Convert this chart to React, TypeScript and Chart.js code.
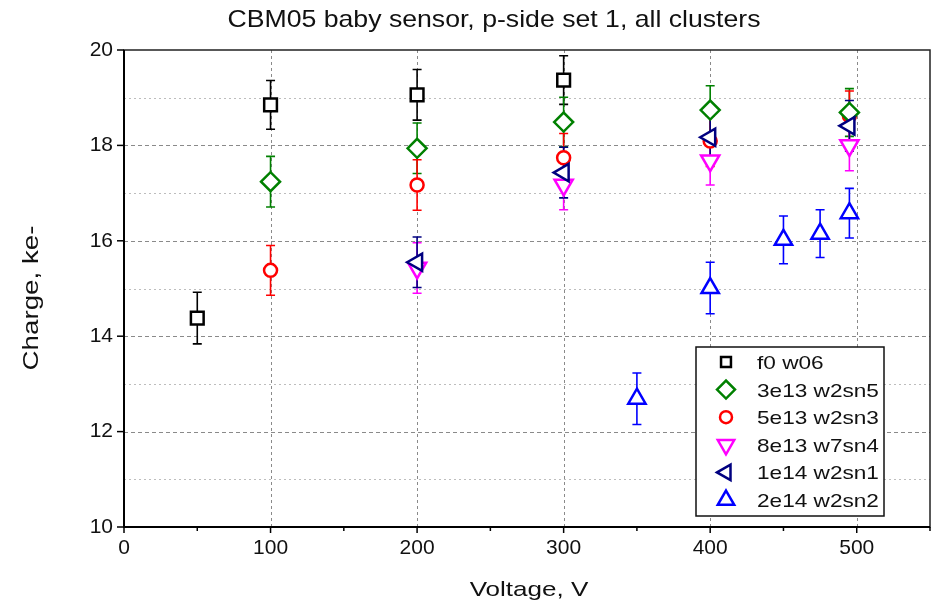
import React, { useEffect, useRef } from 'react';
import { Chart, registerables } from 'chart.js';

Chart.register(...registerables);

const TITLE = 'CBM05 baby sensor, p-side set 1, all clusters';
const X_TITLE = 'Voltage, V';
const Y_TITLE = 'Charge, ke-';

const SERIES_NAMES = ['f0 w06', '3e13 w2sn5', '5e13 w2sn3', '8e13 w7sn4', '1e14 w2sn1', '2e14 w2sn2'];

const f0_x = [50, 100, 200, 300];
const f0_y = [14.38, 18.85, 19.06, 19.37];
const f0_err = [0.54, 0.51, 0.53, 0.51];

const s3e13_x = [100, 200, 300, 400, 495];
const s3e13_y = [17.24, 17.94, 18.49, 18.74, 18.69];
const s3e13_err = [0.53, 0.53, 0.52, 0.51, 0.5];

const s5e13_x = [100, 200, 300, 400, 495];
const s5e13_y = [15.38, 17.17, 17.74, 18.09, 18.62];
const s5e13_err = [0.52, 0.53, 0.51, 0.53, 0.52];

const s8e13_x = [200, 300, 400, 495];
const s8e13_y = [15.43, 17.17, 17.68, 18.0];
const s8e13_err = [0.53, 0.52, 0.51, 0.53];

const s1e14_x = [200, 300, 400, 495];
const s1e14_y = [15.55, 17.43, 18.17, 18.41];
const s1e14_err = [0.53, 0.53, 0.51, 0.53];

const s2e14_x = [350, 400, 450, 475, 495];
const s2e14_y = [12.69, 15.01, 16.02, 16.15, 16.58];
const s2e14_err = [0.54, 0.54, 0.5, 0.5, 0.52];

const X_MIN = 0, X_MAX = 550, X_STEP = 50, X_LABEL_STEP = 100;
const Y_MIN = 10, Y_MAX = 20, Y_STEP = 1, Y_LABEL_STEP = 2;

const COLORS = ['#000000', '#008000', '#ff0000', '#ff00ff', '#000080', '#0000ff'];
const STYLES = ['rect', 'rectRot', 'circle', 'triangle', 'triangle', 'triangle'];
const ROTATIONS = [0, 0, 0, 180, -90, 0];
const RADII = [9, 9.5, 6.5, 10.5, 10, 10];
const LEGEND_RADII = [7, 9, 6, 9.5, 9, 9.5];
const ORDERS = [0, 3, 5, 4, 2, 1];

const FONT = '"Liberation Sans", Arial, sans-serif';

function drawMarker(ctx: CanvasRenderingContext2D, style: string, rot: number, x: number, y: number, r: number) {
  ctx.beginPath();
  if (style === 'rect') {
    const s = r * Math.SQRT1_2;
    ctx.rect(x - s, y - s, 2 * s, 2 * s);
  } else if (style === 'rectRot') {
    ctx.moveTo(x - r, y);
    ctx.lineTo(x, y - r);
    ctx.lineTo(x + r, y);
    ctx.lineTo(x, y + r);
    ctx.closePath();
  } else if (style === 'circle') {
    ctx.arc(x, y, r, 0, Math.PI * 2);
  } else {
    let a = (rot * Math.PI) / 180;
    ctx.moveTo(x + Math.sin(a) * r, y - Math.cos(a) * r);
    a += (2 * Math.PI) / 3;
    ctx.lineTo(x + Math.sin(a) * r, y - Math.cos(a) * r);
    a += (2 * Math.PI) / 3;
    ctx.lineTo(x + Math.sin(a) * r, y - Math.cos(a) * r);
    ctx.closePath();
  }
  ctx.fill();
  ctx.stroke();
}

const backgroundPlugin = {
  id: 'gridAndErrors',
  beforeDatasetsDraw(chart: any) {
    const { ctx, chartArea, scales } = chart;
    const xs = scales.x;
    const ys = scales.y;
    ctx.save();
    // horizontal grid
    ys.ticks.forEach((t: any) => {
      const v = t.value;
      if (v <= Y_MIN || v >= Y_MAX) return;
      const py = Math.round(ys.getPixelForValue(v)) + 0.5;
      const major = Math.abs(v % Y_LABEL_STEP) < 1e-6;
      ctx.strokeStyle = major ? '#8a8a8a' : '#bdbdbd';
      ctx.setLineDash(major ? [4, 3] : [2, 3]);
      ctx.lineWidth = 1;
      ctx.beginPath();
      ctx.moveTo(chartArea.left, py);
      ctx.lineTo(chartArea.right, py);
      ctx.stroke();
    });
    // vertical grid
    xs.ticks.forEach((t: any) => {
      const v = t.value;
      if (v <= X_MIN || v >= X_MAX) return;
      if (Math.abs(v % X_LABEL_STEP) > 1e-6) return;
      const px = Math.round(xs.getPixelForValue(v)) + 0.5;
      ctx.strokeStyle = '#8a8a8a';
      ctx.setLineDash([3, 3]);
      ctx.lineWidth = 1;
      ctx.beginPath();
      ctx.moveTo(px, chartArea.top);
      ctx.lineTo(px, chartArea.bottom);
      ctx.stroke();
    });
    ctx.setLineDash([]);
    // error bars
    chart.data.datasets.forEach((ds: any, i: number) => {
      const meta = chart.getDatasetMeta(i);
      ctx.strokeStyle = ds.borderColor;
      ctx.lineWidth = 1.6;
      meta.data.forEach((pt: any, j: number) => {
        const e = ds.errors[j];
        const v = ds.data[j].y;
        const px = pt.x;
        const top = ys.getPixelForValue(v + e);
        const bot = ys.getPixelForValue(v - e);
        ctx.beginPath();
        ctx.moveTo(px, top);
        ctx.lineTo(px, bot);
        ctx.moveTo(px - 4.5, top);
        ctx.lineTo(px + 4.5, top);
        ctx.moveTo(px - 4.5, bot);
        ctx.lineTo(px + 4.5, bot);
        ctx.stroke();
      });
    });
    ctx.restore();
  },
  afterDraw(chart: any) {
    const { ctx, chartArea, scales } = chart;
    const xs = scales.x;
    const ys = scales.y;
    const { left, right, top, bottom } = chartArea;
    ctx.save();
    // frame
    ctx.strokeStyle = '#222';
    ctx.lineWidth = 1.5;
    ctx.strokeRect(left, top, right - left, bottom - top);
    ctx.strokeStyle = '#000';
    ctx.lineWidth = 2;
    ctx.beginPath();
    ctx.moveTo(left, top);
    ctx.lineTo(left, bottom);
    ctx.lineTo(right, bottom);
    ctx.stroke();
    // tick marks
    ctx.lineWidth = 1.5;
    ys.ticks.forEach((t: any) => {
      const v = t.value;
      if (Math.abs(v % Y_LABEL_STEP) > 1e-6) return;
      const py = ys.getPixelForValue(v);
      ctx.beginPath();
      ctx.moveTo(left - 7, py);
      ctx.lineTo(left, py);
      ctx.stroke();
    });
    xs.ticks.forEach((t: any) => {
      const v = t.value;
      const major = Math.abs(v % X_LABEL_STEP) < 1e-6;
      const px = xs.getPixelForValue(v);
      ctx.beginPath();
      ctx.moveTo(px, bottom);
      ctx.lineTo(px, bottom + (major ? 6 : 4));
      ctx.stroke();
    });

    ctx.fillStyle = '#111';
    // title
    ctx.save();
    ctx.font = `24px ${FONT}`;
    ctx.textAlign = 'center';
    ctx.textBaseline = 'alphabetic';
    ctx.translate(494, 27);
    ctx.scale(1.11, 1);
    ctx.fillText(TITLE, 0, 0);
    ctx.restore();
    // x title
    ctx.save();
    ctx.font = `21px ${FONT}`;
    ctx.textAlign = 'center';
    ctx.translate(529, 596);
    ctx.scale(1.24, 1);
    ctx.fillText(X_TITLE, 0, 0);
    ctx.restore();
    // y title
    ctx.save();
    ctx.font = `22px ${FONT}`;
    ctx.textAlign = 'center';
    ctx.translate(38, 298);
    ctx.rotate(-Math.PI / 2);
    ctx.scale(1.26, 1);
    ctx.fillText(Y_TITLE, 0, 0);
    ctx.restore();

    // legend
    const bx = 696, by = 347, bw = 188, bh = 169;
    ctx.fillStyle = '#fff';
    ctx.fillRect(bx, by, bw, bh);
    ctx.strokeStyle = '#111';
    ctx.lineWidth = 1.5;
    ctx.strokeRect(bx, by, bw, bh);
    SERIES_NAMES.forEach((name, i) => {
      const cy = 362 + i * 27.6;
      ctx.fillStyle = '#fff';
      ctx.strokeStyle = COLORS[i];
      ctx.lineWidth = 2.5;
      drawMarker(ctx, STYLES[i], ROTATIONS[i], 726, cy, LEGEND_RADII[i]);
      ctx.save();
      ctx.fillStyle = '#111';
      ctx.font = `19px ${FONT}`;
      ctx.textAlign = 'left';
      ctx.textBaseline = 'alphabetic';
      ctx.translate(757, cy + 7);
      ctx.scale(1.19, 1);
      ctx.fillText(name, 0, 0);
      ctx.restore();
    });
    ctx.restore();
  },
};

function makeData(xs: number[], ys: number[]) {
  return xs.map((x, i) => ({ x, y: ys[i] }));
}

export default function App() {
  const ref = useRef<HTMLCanvasElement>(null);
  useEffect(() => {
    const xsAll = [f0_x, s3e13_x, s5e13_x, s8e13_x, s1e14_x, s2e14_x];
    const ysAll = [f0_y, s3e13_y, s5e13_y, s8e13_y, s1e14_y, s2e14_y];
    const errAll = [f0_err, s3e13_err, s5e13_err, s8e13_err, s1e14_err, s2e14_err];
    const datasets = SERIES_NAMES.map((name, i) => ({
      label: name,
      data: makeData(xsAll[i], ysAll[i]),
      errors: errAll[i],
      borderColor: COLORS[i],
      backgroundColor: '#ffffff',
      pointStyle: STYLES[i],
      pointRotation: ROTATIONS[i],
      pointRadius: RADII[i],
      pointBorderWidth: 2.5,
      pointBackgroundColor: '#ffffff',
      pointBorderColor: COLORS[i],
      showLine: false,
      order: ORDERS[i],
    }));
    const chart = new Chart(ref.current as HTMLCanvasElement, {
      type: 'scatter',
      data: { datasets } as any,
      options: {
        animation: false,
        responsive: false,
        layout: { autoPadding: false, padding: { top: 50, right: 3, left: 0, bottom: 0 } },
        plugins: { legend: { display: false }, title: { display: false }, tooltip: { enabled: false } },
        scales: {
          x: {
            type: 'linear',
            min: X_MIN,
            max: X_MAX,
            grid: { display: false, drawTicks: false },
            border: { display: false },
            ticks: {
              stepSize: X_STEP,
              autoSkip: false,
              maxRotation: 0,
              padding: 9,
              color: '#111',
              font: { family: FONT, size: 21 },
              callback: (v: any) => (Math.abs(Number(v) % X_LABEL_STEP) < 1e-6 ? String(v) : ''),
            },
            afterFit: (s: any) => {
              s.height = 80;
              s.paddingLeft = 0;
              s.paddingRight = 0;
            },
          },
          y: {
            type: 'linear',
            min: Y_MIN,
            max: Y_MAX,
            grid: { display: false, drawTicks: false },
            border: { display: false },
            ticks: {
              stepSize: Y_STEP,
              autoSkip: false,
              padding: 11,
              color: '#111',
              font: { family: FONT, size: 21 },
              callback: (v: any) => (Math.abs(Number(v) % Y_LABEL_STEP) < 1e-6 ? String(v) : ''),
            },
            afterFit: (s: any) => {
              s.width = 124;
              s.paddingTop = 0;
              s.paddingBottom = 0;
            },
          },
        },
      },
      plugins: [backgroundPlugin],
    } as any);
    return () => chart.destroy();
  }, []);
  return (
    <div style={{ position: 'fixed', left: 0, top: 0, width: 933, height: 607, background: '#fff' }}>
      <canvas ref={ref} width={933} height={607} style={{ display: 'block', width: 933, height: 607 }} />
    </div>
  );
}
